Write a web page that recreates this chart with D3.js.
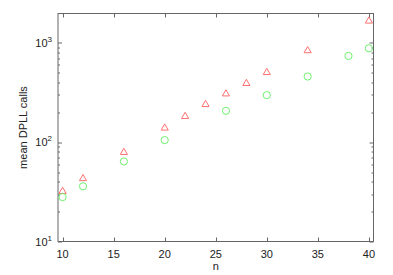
<!DOCTYPE html>
<html>
<head>
<meta charset="utf-8">
<script src="https://cdn.jsdelivr.net/npm/d3@7"></script>
<style>
  body { margin: 0; background: #fff; }
  text { font-family: "Liberation Sans", Arial, sans-serif; fill: #222; }
</style>
</head>
<body>
<div id="chart"></div>
<script>
// mean DPLL calls per n
var nRed = [10, 12, 16, 20, 22, 24, 26, 28, 30, 34, 40];
var callsRed = [32, 43, 79, 139, 182, 240, 307, 391, 504, 836, 1663];
var nGreen = [10, 12, 16, 20, 26, 30, 34, 38, 40];
var callsGreen = [28, 36, 64, 105, 207, 298, 459, 740, 883];
var xTicks = [10, 15, 20, 25, 30, 35, 40];
var yDecades = [1, 2, 3];

var W = 393, H = 275;
var margin = { left: 58, right: 19.5, top: 13.5, bottom: 33.5 };
var w = W - margin.left - margin.right;
var h = H - margin.top - margin.bottom;

var x = d3.scaleLinear().domain([9.55, 40.45]).range([0, w]);
var y = d3.scaleLog().domain([10, 1980]).range([h, 0]);

var svg = d3.select('#chart')
  .append('svg')
  .attr('width', W)
  .attr('height', H)
  .append('g')
  .attr('transform', 'translate(' + margin.left + ',' + margin.top + ')');

var axisColor = '#666';

// frame
svg.append('rect')
  .attr('width', w).attr('height', h)
  .attr('fill', 'none')
  .attr('stroke', axisColor)
  .attr('stroke-width', 1);

// x ticks (inside, top and bottom)
xTicks.forEach(function(t) {
  var px = Math.round(x(t)) + 0.5;
  svg.append('line').attr('x1', px).attr('x2', px).attr('y1', h).attr('y2', h - 4).attr('stroke', axisColor);
  svg.append('line').attr('x1', px).attr('x2', px).attr('y1', 0).attr('y2', 4).attr('stroke', axisColor);
  svg.append('text')
    .attr('x', x(t)).attr('y', h + 16)
    .attr('text-anchor', 'middle')
    .style('font-size', '11px')
    .text(t);
});

// y ticks: majors and minors on both sides
var minors = [];
for (var d = 1; d < 4; d++) {
  for (var m = 2; m <= 9; m++) {
    var v = m * Math.pow(10, d);
    if (v <= 1980) minors.push(v);
  }
}
minors.forEach(function(v) {
  var py = Math.round(y(v)) + 0.5;
  svg.append('line').attr('x1', 0).attr('x2', 2).attr('y1', py).attr('y2', py).attr('stroke', axisColor);
  svg.append('line').attr('x1', w).attr('x2', w - 2).attr('y1', py).attr('y2', py).attr('stroke', axisColor);
});
yDecades.forEach(function(e) {
  var py = Math.round(y(Math.pow(10, e))) + 0.5;
  svg.append('line').attr('x1', 0).attr('x2', 4).attr('y1', py).attr('y2', py).attr('stroke', axisColor);
  svg.append('line').attr('x1', w).attr('x2', w - 4).attr('y1', py).attr('y2', py).attr('stroke', axisColor);
  var lbl = svg.append('text')
    .attr('x', -6).attr('y', y(Math.pow(10, e)) + 4)
    .attr('text-anchor', 'end')
    .style('font-size', '11px');
  lbl.append('tspan').text('10');
  lbl.append('tspan').attr('dy', -5).style('font-size', '8px').text(e);
});

// axis labels
svg.append('text')
  .attr('x', w / 2).attr('y', h + 28)
  .attr('text-anchor', 'middle')
  .style('font-size', '11px')
  .text('n');
svg.append('text')
  .attr('transform', 'translate(-31,' + (h / 2) + ') rotate(-90)')
  .attr('text-anchor', 'middle')
  .style('font-size', '11px')
  .text('mean DPLL calls');

// triangles
var tri = d3.symbol().type(d3.symbolTriangle).size(22);
svg.selectAll('.tri')
  .data(nRed.map(function(n, i) { return { n: n, v: callsRed[i] }; }))
  .enter().append('path')
  .attr('class', 'tri')
  .attr('d', tri)
  .attr('transform', function(d) { return 'translate(' + x(d.n) + ',' + y(d.v) + ')'; })
  .attr('fill', 'none')
  .attr('stroke', '#ff7070')
  .attr('stroke-width', 1);

// circles
svg.selectAll('.circ')
  .data(nGreen.map(function(n, i) { return { n: n, v: callsGreen[i] }; }))
  .enter().append('circle')
  .attr('class', 'circ')
  .attr('cx', function(d) { return x(d.n); })
  .attr('cy', function(d) { return y(d.v); })
  .attr('r', 3.6)
  .attr('fill', 'none')
  .attr('stroke', '#70f070')
  .attr('stroke-width', 1);
</script>
</body>
</html>
